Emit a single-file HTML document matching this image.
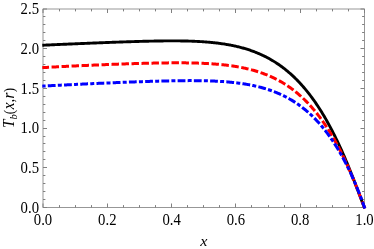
<!DOCTYPE html>
<html><head><meta charset="utf-8"><style>
html,body{margin:0;padding:0;background:#fff;}
svg{display:block;will-change:transform;}
text{font-family:"Liberation Serif",serif;font-size:16px;fill:#000}
</style></head><body>
<svg width="374" height="249" viewBox="0 0 374 249">
<rect width="374" height="249" fill="#fff"/>
<clipPath id="c"><rect x="43.0" y="9.0" width="321.5" height="198.5"/></clipPath>
<rect x="43.0" y="9.0" width="321.5" height="198.5" fill="none" stroke="#6c6c6c" stroke-width="0.7"/>
<path d="M43.00,207.50v-4.0M43.00,9.00v4.0M59.50,207.50v-2.4M59.50,9.00v2.4M75.50,207.50v-2.4M75.50,9.00v2.4M91.50,207.50v-2.4M91.50,9.00v2.4M107.50,207.50v-4.0M107.50,9.00v4.0M123.50,207.50v-2.4M123.50,9.00v2.4M139.50,207.50v-2.4M139.50,9.00v2.4M155.50,207.50v-2.4M155.50,9.00v2.4M171.50,207.50v-4.0M171.50,9.00v4.0M187.50,207.50v-2.4M187.50,9.00v2.4M203.50,207.50v-2.4M203.50,9.00v2.4M219.50,207.50v-2.4M219.50,9.00v2.4M235.50,207.50v-4.0M235.50,9.00v4.0M251.50,207.50v-2.4M251.50,9.00v2.4M268.50,207.50v-2.4M268.50,9.00v2.4M284.50,207.50v-2.4M284.50,9.00v2.4M300.50,207.50v-4.0M300.50,9.00v4.0M316.50,207.50v-2.4M316.50,9.00v2.4M332.50,207.50v-2.4M332.50,9.00v2.4M348.50,207.50v-2.4M348.50,9.00v2.4M364.50,207.50v-4.0M364.50,9.00v4.0M43.00,207.50h4.0M364.50,207.50h-4.0M43.00,199.50h2.4M364.50,199.50h-2.4M43.00,191.50h2.4M364.50,191.50h-2.4M43.00,183.50h2.4M364.50,183.50h-2.4M43.00,175.50h2.4M364.50,175.50h-2.4M43.00,167.50h4.0M364.50,167.50h-4.0M43.00,159.50h2.4M364.50,159.50h-2.4M43.00,151.50h2.4M364.50,151.50h-2.4M43.00,143.50h2.4M364.50,143.50h-2.4M43.00,136.50h2.4M364.50,136.50h-2.4M43.00,128.50h4.0M364.50,128.50h-4.0M43.00,120.50h2.4M364.50,120.50h-2.4M43.00,112.50h2.4M364.50,112.50h-2.4M43.00,104.50h2.4M364.50,104.50h-2.4M43.00,96.50h2.4M364.50,96.50h-2.4M43.00,88.50h4.0M364.50,88.50h-4.0M43.00,80.50h2.4M364.50,80.50h-2.4M43.00,72.50h2.4M364.50,72.50h-2.4M43.00,64.50h2.4M364.50,64.50h-2.4M43.00,56.50h2.4M364.50,56.50h-2.4M43.00,48.50h4.0M364.50,48.50h-4.0M43.00,40.50h2.4M364.50,40.50h-2.4M43.00,32.50h2.4M364.50,32.50h-2.4M43.00,24.50h2.4M364.50,24.50h-2.4M43.00,16.50h2.4M364.50,16.50h-2.4M43.00,9.00h4.0M364.50,9.00h-4.0" stroke="#808080" stroke-width="1" fill="none"/>
<g fill="none" stroke-linejoin="round">
<path d="M42.30,45.25 L43.00,45.22 L43.81,45.19 L44.61,45.15 L45.42,45.11 L46.22,45.07 L47.03,45.04 L47.83,45.00 L48.64,44.96 L49.45,44.93 L50.25,44.89 L51.06,44.86 L51.86,44.82 L52.67,44.78 L53.47,44.75 L54.28,44.71 L55.09,44.67 L55.89,44.64 L56.70,44.60 L57.50,44.57 L58.31,44.53 L59.12,44.50 L59.92,44.46 L60.73,44.42 L61.53,44.39 L62.34,44.35 L63.14,44.32 L63.95,44.28 L64.76,44.25 L65.56,44.21 L66.37,44.18 L67.17,44.14 L67.98,44.11 L68.78,44.07 L69.59,44.04 L70.40,44.01 L71.20,43.97 L72.01,43.94 L72.81,43.90 L73.62,43.87 L74.42,43.83 L75.23,43.80 L76.04,43.77 L76.84,43.73 L77.65,43.70 L78.45,43.66 L79.26,43.63 L80.07,43.60 L80.87,43.56 L81.68,43.53 L82.48,43.50 L83.29,43.46 L84.09,43.43 L84.90,43.40 L85.71,43.36 L86.51,43.33 L87.32,43.30 L88.12,43.26 L88.93,43.23 L89.73,43.20 L90.54,43.17 L91.35,43.13 L92.15,43.10 L92.96,43.07 L93.76,43.04 L94.57,43.00 L95.37,42.97 L96.18,42.94 L96.99,42.91 L97.79,42.88 L98.60,42.84 L99.40,42.81 L100.21,42.78 L101.02,42.75 L101.82,42.72 L102.63,42.69 L103.43,42.66 L104.24,42.63 L105.04,42.59 L105.85,42.56 L106.66,42.53 L107.46,42.50 L108.27,42.47 L109.07,42.44 L109.88,42.41 L110.68,42.38 L111.49,42.35 L112.30,42.32 L113.10,42.29 L113.91,42.26 L114.71,42.23 L115.52,42.20 L116.32,42.17 L117.13,42.15 L117.94,42.12 L118.74,42.09 L119.55,42.06 L120.35,42.03 L121.16,42.00 L121.96,41.97 L122.77,41.95 L123.58,41.92 L124.38,41.89 L125.19,41.86 L125.99,41.84 L126.80,41.81 L127.61,41.78 L128.41,41.76 L129.22,41.73 L130.02,41.71 L130.83,41.68 L131.63,41.65 L132.44,41.63 L133.25,41.60 L134.05,41.58 L134.86,41.55 L135.66,41.53 L136.47,41.51 L137.27,41.48 L138.08,41.46 L138.89,41.44 L139.69,41.41 L140.50,41.39 L141.30,41.37 L142.11,41.35 L142.91,41.32 L143.72,41.30 L144.53,41.28 L145.33,41.26 L146.14,41.24 L146.94,41.22 L147.75,41.20 L148.56,41.18 L149.36,41.17 L150.17,41.15 L150.97,41.13 L151.78,41.11 L152.58,41.10 L153.39,41.08 L154.20,41.06 L155.00,41.05 L155.81,41.03 L156.61,41.02 L157.42,41.01 L158.22,40.99 L159.03,40.98 L159.84,40.97 L160.64,40.96 L161.45,40.95 L162.25,40.94 L163.06,40.93 L163.86,40.92 L164.67,40.91 L165.48,40.90 L166.28,40.90 L167.09,40.89 L167.89,40.89 L168.70,40.88 L169.51,40.88 L170.31,40.88 L171.12,40.87 L171.92,40.87 L172.73,40.87 L173.53,40.87 L174.34,40.88 L175.15,40.88 L175.95,40.88 L176.76,40.89 L177.56,40.89 L178.37,40.90 L179.17,40.91 L179.98,40.92 L180.79,40.93 L181.59,40.94 L182.40,40.95 L183.20,40.96 L184.01,40.98 L184.81,40.99 L185.62,41.01 L186.43,41.03 L187.23,41.05 L188.04,41.07 L188.84,41.09 L189.65,41.12 L190.45,41.14 L191.26,41.17 L192.07,41.20 L192.87,41.23 L193.68,41.26 L194.48,41.29 L195.29,41.33 L196.10,41.37 L196.90,41.40 L197.71,41.44 L198.51,41.49 L199.32,41.53 L200.12,41.58 L200.93,41.62 L201.74,41.67 L202.54,41.73 L203.35,41.78 L204.15,41.83 L204.96,41.89 L205.76,41.95 L206.57,42.02 L207.38,42.08 L208.18,42.15 L208.99,42.22 L209.79,42.29 L210.60,42.36 L211.40,42.44 L212.21,42.52 L213.02,42.60 L213.82,42.69 L214.63,42.77 L215.43,42.86 L216.24,42.96 L217.05,43.05 L217.85,43.15 L218.66,43.25 L219.46,43.36 L220.27,43.47 L221.07,43.58 L221.88,43.69 L222.69,43.81 L223.49,43.93 L224.30,44.05 L225.10,44.18 L225.91,44.31 L226.71,44.45 L227.52,44.59 L228.33,44.73 L229.13,44.87 L229.94,45.02 L230.74,45.18 L231.55,45.34 L232.35,45.50 L233.16,45.66 L233.97,45.83 L234.77,46.01 L235.58,46.19 L236.38,46.37 L237.19,46.56 L237.99,46.75 L238.80,46.95 L239.61,47.15 L240.41,47.36 L241.22,47.57 L242.02,47.79 L242.83,48.01 L243.64,48.23 L244.44,48.47 L245.25,48.70 L246.05,48.95 L246.86,49.19 L247.66,49.45 L248.47,49.71 L249.28,49.97 L250.08,50.24 L250.89,50.52 L251.69,50.81 L252.50,51.09 L253.30,51.39 L254.11,51.69 L254.92,52.00 L255.72,52.32 L256.53,52.64 L257.33,52.97 L258.14,53.30 L258.94,53.64 L259.75,53.99 L260.56,54.35 L261.36,54.71 L262.17,55.09 L262.97,55.46 L263.78,55.85 L264.59,56.25 L265.39,56.65 L266.20,57.06 L267.00,57.48 L267.81,57.90 L268.61,58.34 L269.42,58.78 L270.23,59.23 L271.03,59.69 L271.84,60.16 L272.64,60.64 L273.45,61.13 L274.25,61.62 L275.06,62.13 L275.87,62.64 L276.67,63.17 L277.48,63.70 L278.28,64.25 L279.09,64.80 L279.89,65.37 L280.70,65.94 L281.51,66.53 L282.31,67.12 L283.12,67.73 L283.92,68.34 L284.73,68.97 L285.54,69.61 L286.34,70.26 L287.15,70.92 L287.95,71.60 L288.76,72.28 L289.56,72.98 L290.37,73.69 L291.18,74.41 L291.98,75.14 L292.79,75.89 L293.59,76.64 L294.40,77.41 L295.20,78.20 L296.01,79.00 L296.82,79.81 L297.62,80.63 L298.43,81.47 L299.23,82.32 L300.04,83.18 L300.84,84.06 L301.65,84.95 L302.46,85.86 L303.26,86.78 L304.07,87.72 L304.87,88.67 L305.68,89.63 L306.48,90.61 L307.29,91.61 L308.10,92.62 L308.90,93.65 L309.71,94.69 L310.51,95.75 L311.32,96.83 L312.13,97.92 L312.93,99.03 L313.74,100.15 L314.54,101.29 L315.35,102.45 L316.15,103.63 L316.96,104.82 L317.77,106.03 L318.57,107.26 L319.38,108.51 L320.18,109.77 L320.99,111.05 L321.79,112.35 L322.60,113.67 L323.41,115.01 L324.21,116.36 L325.02,117.74 L325.82,119.13 L326.63,120.54 L327.43,121.98 L328.24,123.43 L329.05,124.90 L329.85,126.39 L330.66,127.90 L331.46,129.43 L332.27,130.98 L333.08,132.55 L333.88,134.14 L334.69,135.75 L335.49,137.38 L336.30,139.03 L337.10,140.70 L337.91,142.40 L338.72,144.11 L339.52,145.84 L340.33,147.60 L341.13,149.37 L341.94,151.17 L342.74,152.98 L343.55,154.82 L344.36,156.68 L345.16,158.55 L345.97,160.45 L346.77,162.37 L347.58,164.31 L348.38,166.26 L349.19,168.24 L350.00,170.23 L350.80,172.24 L351.61,174.27 L352.41,176.32 L353.22,178.38 L354.03,180.46 L354.83,182.55 L355.64,184.66 L356.44,186.77 L357.25,188.90 L358.05,191.03 L358.86,193.17 L359.67,195.31 L360.47,197.45 L361.28,199.57 L362.08,201.67 L362.89,203.73 L363.69,205.72 L364.50,207.50 L364.91,208.41" stroke="#000" stroke-width="2.9"/>
<path d="M42.30,67.64 L43.00,67.60 L43.81,67.55 L44.61,67.51 L45.42,67.46 L46.22,67.42 L47.03,67.38 L47.83,67.33 L48.64,67.29 L49.45,67.25 L50.25,67.20 L51.06,67.16 L51.86,67.12 L52.67,67.07 L53.47,67.03 L54.28,66.99 L55.09,66.95 L55.89,66.90 L56.70,66.86 L57.50,66.82 L58.31,66.78 L59.12,66.74 L59.92,66.70 L60.73,66.65 L61.53,66.61 L62.34,66.57 L63.14,66.53 L63.95,66.49 L64.76,66.45 L65.56,66.41 L66.37,66.37 L67.17,66.33 L67.98,66.29 L68.78,66.25 L69.59,66.21 L70.40,66.17 L71.20,66.13 L72.01,66.09 L72.81,66.06 L73.62,66.02 L74.42,65.98 L75.23,65.94 L76.04,65.90 L76.84,65.86 L77.65,65.83 L78.45,65.79 L79.26,65.75 L80.07,65.71 L80.87,65.68 L81.68,65.64 L82.48,65.60 L83.29,65.57 L84.09,65.53 L84.90,65.49 L85.71,65.46 L86.51,65.42 L87.32,65.39 L88.12,65.35 L88.93,65.31 L89.73,65.28 L90.54,65.24 L91.35,65.21 L92.15,65.17 L92.96,65.14 L93.76,65.10 L94.57,65.07 L95.37,65.04 L96.18,65.00 L96.99,64.97 L97.79,64.93 L98.60,64.90 L99.40,64.87 L100.21,64.83 L101.02,64.80 L101.82,64.77 L102.63,64.74 L103.43,64.70 L104.24,64.67 L105.04,64.64 L105.85,64.61 L106.66,64.58 L107.46,64.54 L108.27,64.51 L109.07,64.48 L109.88,64.45 L110.68,64.42 L111.49,64.39 L112.30,64.36 L113.10,64.33 L113.91,64.30 L114.71,64.27 L115.52,64.24 L116.32,64.21 L117.13,64.18 L117.94,64.15 L118.74,64.12 L119.55,64.09 L120.35,64.06 L121.16,64.04 L121.96,64.01 L122.77,63.98 L123.58,63.95 L124.38,63.92 L125.19,63.90 L125.99,63.87 L126.80,63.84 L127.61,63.82 L128.41,63.79 L129.22,63.76 L130.02,63.74 L130.83,63.71 L131.63,63.69 L132.44,63.66 L133.25,63.64 L134.05,63.61 L134.86,63.59 L135.66,63.56 L136.47,63.54 L137.27,63.52 L138.08,63.49 L138.89,63.47 L139.69,63.45 L140.50,63.42 L141.30,63.40 L142.11,63.38 L142.91,63.36 L143.72,63.34 L144.53,63.32 L145.33,63.30 L146.14,63.28 L146.94,63.26 L147.75,63.24 L148.56,63.22 L149.36,63.20 L150.17,63.18 L150.97,63.16 L151.78,63.14 L152.58,63.13 L153.39,63.11 L154.20,63.09 L155.00,63.08 L155.81,63.06 L156.61,63.04 L157.42,63.03 L158.22,63.01 L159.03,63.00 L159.84,62.99 L160.64,62.97 L161.45,62.96 L162.25,62.95 L163.06,62.94 L163.86,62.93 L164.67,62.92 L165.48,62.91 L166.28,62.90 L167.09,62.89 L167.89,62.88 L168.70,62.87 L169.51,62.86 L170.31,62.86 L171.12,62.85 L171.92,62.85 L172.73,62.84 L173.53,62.84 L174.34,62.83 L175.15,62.83 L175.95,62.83 L176.76,62.83 L177.56,62.83 L178.37,62.83 L179.17,62.83 L179.98,62.83 L180.79,62.84 L181.59,62.84 L182.40,62.84 L183.20,62.85 L184.01,62.86 L184.81,62.86 L185.62,62.87 L186.43,62.88 L187.23,62.89 L188.04,62.90 L188.84,62.91 L189.65,62.93 L190.45,62.94 L191.26,62.96 L192.07,62.97 L192.87,62.99 L193.68,63.01 L194.48,63.03 L195.29,63.05 L196.10,63.08 L196.90,63.10 L197.71,63.12 L198.51,63.15 L199.32,63.18 L200.12,63.21 L200.93,63.24 L201.74,63.27 L202.54,63.31 L203.35,63.34 L204.15,63.38 L204.96,63.42 L205.76,63.46 L206.57,63.50 L207.38,63.54 L208.18,63.59 L208.99,63.63 L209.79,63.68 L210.60,63.73 L211.40,63.78 L212.21,63.84 L213.02,63.89 L213.82,63.95 L214.63,64.01 L215.43,64.08 L216.24,64.14 L217.05,64.21 L217.85,64.28 L218.66,64.35 L219.46,64.42 L220.27,64.50 L221.07,64.58 L221.88,64.66 L222.69,64.74 L223.49,64.82 L224.30,64.91 L225.10,65.00 L225.91,65.10 L226.71,65.19 L227.52,65.29 L228.33,65.40 L229.13,65.50 L229.94,65.61 L230.74,65.72 L231.55,65.83 L232.35,65.95 L233.16,66.07 L233.97,66.20 L234.77,66.32 L235.58,66.45 L236.38,66.59 L237.19,66.72 L237.99,66.87 L238.80,67.01 L239.61,67.16 L240.41,67.31 L241.22,67.47 L242.02,67.63 L242.83,67.79 L243.64,67.96 L244.44,68.13 L245.25,68.31 L246.05,68.49 L246.86,68.67 L247.66,68.86 L248.47,69.06 L249.28,69.26 L250.08,69.46 L250.89,69.67 L251.69,69.88 L252.50,70.10 L253.30,70.32 L254.11,70.55 L254.92,70.78 L255.72,71.02 L256.53,71.27 L257.33,71.52 L258.14,71.77 L258.94,72.03 L259.75,72.30 L260.56,72.57 L261.36,72.85 L262.17,73.13 L262.97,73.43 L263.78,73.72 L264.59,74.03 L265.39,74.34 L266.20,74.65 L267.00,74.98 L267.81,75.31 L268.61,75.64 L269.42,75.99 L270.23,76.34 L271.03,76.70 L271.84,77.06 L272.64,77.44 L273.45,77.82 L274.25,78.20 L275.06,78.60 L275.87,79.01 L276.67,79.42 L277.48,79.84 L278.28,80.27 L279.09,80.71 L279.89,81.15 L280.70,81.61 L281.51,82.07 L282.31,82.54 L283.12,83.03 L283.92,83.52 L284.73,84.02 L285.54,84.53 L286.34,85.05 L287.15,85.58 L287.95,86.12 L288.76,86.67 L289.56,87.23 L290.37,87.80 L291.18,88.38 L291.98,88.97 L292.79,89.57 L293.59,90.19 L294.40,90.81 L295.20,91.45 L296.01,92.10 L296.82,92.76 L297.62,93.43 L298.43,94.11 L299.23,94.81 L300.04,95.52 L300.84,96.24 L301.65,96.97 L302.46,97.72 L303.26,98.48 L304.07,99.25 L304.87,100.04 L305.68,100.84 L306.48,101.65 L307.29,102.48 L308.10,103.32 L308.90,104.17 L309.71,105.04 L310.51,105.93 L311.32,106.83 L312.13,107.74 L312.93,108.67 L313.74,109.62 L314.54,110.58 L315.35,111.56 L316.15,112.55 L316.96,113.56 L317.77,114.58 L318.57,115.63 L319.38,116.68 L320.18,117.76 L320.99,118.85 L321.79,119.96 L322.60,121.09 L323.41,122.24 L324.21,123.40 L325.02,124.58 L325.82,125.79 L326.63,127.00 L327.43,128.24 L328.24,129.50 L329.05,130.78 L329.85,132.07 L330.66,133.39 L331.46,134.72 L332.27,136.08 L333.08,137.45 L333.88,138.85 L334.69,140.26 L335.49,141.70 L336.30,143.16 L337.10,144.64 L337.91,146.14 L338.72,147.66 L339.52,149.20 L340.33,150.77 L341.13,152.36 L341.94,153.97 L342.74,155.60 L343.55,157.25 L344.36,158.93 L345.16,160.63 L345.97,162.35 L346.77,164.09 L347.58,165.86 L348.38,167.65 L349.19,169.46 L350.00,171.30 L350.80,173.16 L351.61,175.04 L352.41,176.95 L353.22,178.87 L354.03,180.82 L354.83,182.79 L355.64,184.78 L356.44,186.79 L357.25,188.82 L358.05,190.87 L358.86,192.94 L359.67,195.03 L360.47,197.12 L361.28,199.23 L362.08,201.34 L362.89,203.45 L363.69,205.53 L364.50,207.50 L364.88,208.43" stroke="#ff0000" stroke-width="3.0" stroke-dasharray="7.45 2.55" stroke-dashoffset="0.7"/>
<path d="M42.30,86.13 L43.00,86.09 L43.81,86.05 L44.61,86.00 L45.42,85.96 L46.22,85.92 L47.03,85.87 L47.83,85.83 L48.64,85.79 L49.45,85.75 L50.25,85.70 L51.06,85.66 L51.86,85.62 L52.67,85.58 L53.47,85.54 L54.28,85.49 L55.09,85.45 L55.89,85.41 L56.70,85.37 L57.50,85.33 L58.31,85.29 L59.12,85.25 L59.92,85.20 L60.73,85.16 L61.53,85.12 L62.34,85.08 L63.14,85.04 L63.95,85.00 L64.76,84.96 L65.56,84.92 L66.37,84.88 L67.17,84.84 L67.98,84.80 L68.78,84.76 L69.59,84.72 L70.40,84.68 L71.20,84.64 L72.01,84.60 L72.81,84.56 L73.62,84.52 L74.42,84.48 L75.23,84.45 L76.04,84.41 L76.84,84.37 L77.65,84.33 L78.45,84.29 L79.26,84.25 L80.07,84.21 L80.87,84.18 L81.68,84.14 L82.48,84.10 L83.29,84.06 L84.09,84.02 L84.90,83.99 L85.71,83.95 L86.51,83.91 L87.32,83.87 L88.12,83.84 L88.93,83.80 L89.73,83.76 L90.54,83.73 L91.35,83.69 L92.15,83.65 L92.96,83.62 L93.76,83.58 L94.57,83.54 L95.37,83.51 L96.18,83.47 L96.99,83.44 L97.79,83.40 L98.60,83.36 L99.40,83.33 L100.21,83.29 L101.02,83.26 L101.82,83.22 L102.63,83.19 L103.43,83.15 L104.24,83.12 L105.04,83.08 L105.85,83.05 L106.66,83.01 L107.46,82.98 L108.27,82.94 L109.07,82.91 L109.88,82.88 L110.68,82.84 L111.49,82.81 L112.30,82.78 L113.10,82.74 L113.91,82.71 L114.71,82.67 L115.52,82.64 L116.32,82.61 L117.13,82.58 L117.94,82.54 L118.74,82.51 L119.55,82.48 L120.35,82.45 L121.16,82.41 L121.96,82.38 L122.77,82.35 L123.58,82.32 L124.38,82.29 L125.19,82.25 L125.99,82.22 L126.80,82.19 L127.61,82.16 L128.41,82.13 L129.22,82.10 L130.02,82.07 L130.83,82.04 L131.63,82.01 L132.44,81.98 L133.25,81.95 L134.05,81.92 L134.86,81.89 L135.66,81.86 L136.47,81.83 L137.27,81.80 L138.08,81.77 L138.89,81.75 L139.69,81.72 L140.50,81.69 L141.30,81.66 L142.11,81.63 L142.91,81.61 L143.72,81.58 L144.53,81.55 L145.33,81.53 L146.14,81.50 L146.94,81.47 L147.75,81.45 L148.56,81.42 L149.36,81.40 L150.17,81.37 L150.97,81.34 L151.78,81.32 L152.58,81.30 L153.39,81.27 L154.20,81.25 L155.00,81.22 L155.81,81.20 L156.61,81.18 L157.42,81.16 L158.22,81.13 L159.03,81.11 L159.84,81.09 L160.64,81.07 L161.45,81.05 L162.25,81.03 L163.06,81.01 L163.86,80.99 L164.67,80.97 L165.48,80.95 L166.28,80.93 L167.09,80.91 L167.89,80.89 L168.70,80.88 L169.51,80.86 L170.31,80.84 L171.12,80.83 L171.92,80.81 L172.73,80.80 L173.53,80.78 L174.34,80.77 L175.15,80.76 L175.95,80.74 L176.76,80.73 L177.56,80.72 L178.37,80.71 L179.17,80.70 L179.98,80.69 L180.79,80.68 L181.59,80.67 L182.40,80.66 L183.20,80.65 L184.01,80.65 L184.81,80.64 L185.62,80.64 L186.43,80.63 L187.23,80.63 L188.04,80.63 L188.84,80.62 L189.65,80.62 L190.45,80.62 L191.26,80.62 L192.07,80.62 L192.87,80.63 L193.68,80.63 L194.48,80.63 L195.29,80.64 L196.10,80.65 L196.90,80.65 L197.71,80.66 L198.51,80.67 L199.32,80.68 L200.12,80.69 L200.93,80.70 L201.74,80.72 L202.54,80.73 L203.35,80.75 L204.15,80.76 L204.96,80.78 L205.76,80.80 L206.57,80.82 L207.38,80.85 L208.18,80.87 L208.99,80.89 L209.79,80.92 L210.60,80.95 L211.40,80.98 L212.21,81.01 L213.02,81.04 L213.82,81.08 L214.63,81.11 L215.43,81.15 L216.24,81.19 L217.05,81.23 L217.85,81.27 L218.66,81.32 L219.46,81.36 L220.27,81.41 L221.07,81.46 L221.88,81.51 L222.69,81.57 L223.49,81.62 L224.30,81.68 L225.10,81.74 L225.91,81.81 L226.71,81.87 L227.52,81.94 L228.33,82.01 L229.13,82.08 L229.94,82.15 L230.74,82.23 L231.55,82.31 L232.35,82.39 L233.16,82.47 L233.97,82.56 L234.77,82.65 L235.58,82.74 L236.38,82.84 L237.19,82.94 L237.99,83.04 L238.80,83.14 L239.61,83.25 L240.41,83.36 L241.22,83.47 L242.02,83.59 L242.83,83.71 L243.64,83.83 L244.44,83.96 L245.25,84.09 L246.05,84.22 L246.86,84.36 L247.66,84.50 L248.47,84.64 L249.28,84.79 L250.08,84.94 L250.89,85.10 L251.69,85.26 L252.50,85.43 L253.30,85.59 L254.11,85.77 L254.92,85.94 L255.72,86.13 L256.53,86.31 L257.33,86.50 L258.14,86.70 L258.94,86.90 L259.75,87.10 L260.56,87.31 L261.36,87.53 L262.17,87.75 L262.97,87.97 L263.78,88.20 L264.59,88.44 L265.39,88.68 L266.20,88.93 L267.00,89.18 L267.81,89.44 L268.61,89.70 L269.42,89.97 L270.23,90.25 L271.03,90.53 L271.84,90.82 L272.64,91.11 L273.45,91.41 L274.25,91.72 L275.06,92.03 L275.87,92.35 L276.67,92.68 L277.48,93.02 L278.28,93.36 L279.09,93.71 L279.89,94.06 L280.70,94.43 L281.51,94.80 L282.31,95.18 L283.12,95.57 L283.92,95.96 L284.73,96.37 L285.54,96.78 L286.34,97.20 L287.15,97.63 L287.95,98.06 L288.76,98.51 L289.56,98.96 L290.37,99.43 L291.18,99.90 L291.98,100.38 L292.79,100.88 L293.59,101.38 L294.40,101.89 L295.20,102.41 L296.01,102.94 L296.82,103.48 L297.62,104.04 L298.43,104.60 L299.23,105.17 L300.04,105.76 L300.84,106.35 L301.65,106.96 L302.46,107.58 L303.26,108.21 L304.07,108.85 L304.87,109.50 L305.68,110.17 L306.48,110.84 L307.29,111.53 L308.10,112.24 L308.90,112.95 L309.71,113.68 L310.51,114.42 L311.32,115.18 L312.13,115.95 L312.93,116.73 L313.74,117.53 L314.54,118.34 L315.35,119.17 L316.15,120.01 L316.96,120.86 L317.77,121.73 L318.57,122.62 L319.38,123.52 L320.18,124.43 L320.99,125.37 L321.79,126.32 L322.60,127.28 L323.41,128.26 L324.21,129.26 L325.02,130.28 L325.82,131.31 L326.63,132.36 L327.43,133.43 L328.24,134.52 L329.05,135.63 L329.85,136.75 L330.66,137.89 L331.46,139.06 L332.27,140.24 L333.08,141.44 L333.88,142.66 L334.69,143.90 L335.49,145.16 L336.30,146.45 L337.10,147.75 L337.91,149.08 L338.72,150.43 L339.52,151.80 L340.33,153.19 L341.13,154.60 L341.94,156.04 L342.74,157.51 L343.55,158.99 L344.36,160.50 L345.16,162.03 L345.97,163.59 L346.77,165.18 L347.58,166.79 L348.38,168.42 L349.19,170.09 L350.00,171.77 L350.80,173.49 L351.61,175.24 L352.41,177.01 L353.22,178.81 L354.03,180.64 L354.83,182.50 L355.64,184.39 L356.44,186.31 L357.25,188.26 L358.05,190.25 L358.86,192.26 L359.67,194.32 L360.47,196.41 L361.28,198.53 L362.08,200.70 L362.89,202.90 L363.69,205.16 L364.50,207.50 L364.83,208.45" stroke="#0000ff" stroke-width="3.0" stroke-dasharray="4.0 2.22 7.8 2.22" stroke-dashoffset="0.7"/>
</g>
<text transform="translate(43.00,225.0) scale(0.92,1)" text-anchor="middle">0.0</text><text transform="translate(107.30,225.0) scale(0.92,1)" text-anchor="middle">0.2</text><text transform="translate(171.60,225.0) scale(0.92,1)" text-anchor="middle">0.4</text><text transform="translate(235.90,225.0) scale(0.92,1)" text-anchor="middle">0.6</text><text transform="translate(300.20,225.0) scale(0.92,1)" text-anchor="middle">0.8</text><text transform="translate(364.50,225.0) scale(0.92,1)" text-anchor="middle">1.0</text><text transform="translate(39.0,212.80) scale(0.92,1)" text-anchor="end">0.0</text><text transform="translate(39.0,173.10) scale(0.92,1)" text-anchor="end">0.5</text><text transform="translate(39.0,133.40) scale(0.92,1)" text-anchor="end">1.0</text><text transform="translate(39.0,93.70) scale(0.92,1)" text-anchor="end">1.5</text><text transform="translate(39.0,54.00) scale(0.92,1)" text-anchor="end">2.0</text><text transform="translate(39.0,14.30) scale(0.92,1)" text-anchor="end">2.5</text>
<text transform="translate(203.9,245.8) scale(1.12,1)" text-anchor="middle" font-style="italic" style="font-size:14.5px">x</text>
<text transform="translate(14.1,128.0) rotate(-90) scale(0.95,1)" text-anchor="start" style="font-size:16px"><tspan font-style="italic">T</tspan><tspan font-style="italic" dy="2.9" style="font-size:11px">b</tspan><tspan dy="-3.4" dx="0.2" style="font-size:14px">(</tspan><tspan font-style="italic" dy="0.5" dx="0.4">x</tspan>,<tspan font-style="italic" dx="0.3">r</tspan><tspan dy="-0.5" dx="0.3" style="font-size:14px">)</tspan></text>
</svg>
</body></html>
